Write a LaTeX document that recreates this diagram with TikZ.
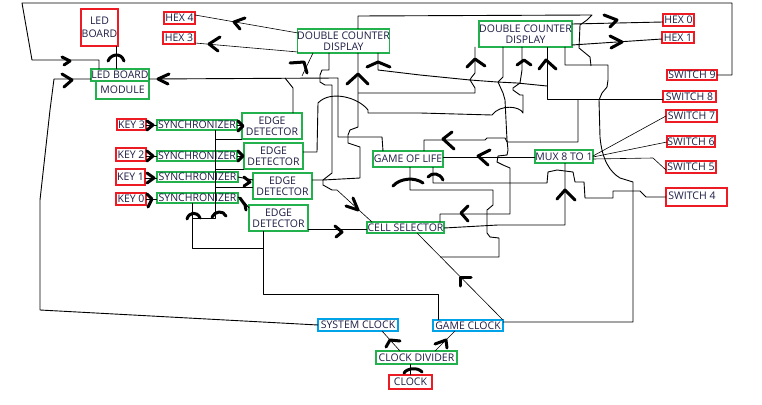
\documentclass[tikz,border=0pt]{standalone}
\usepackage{fontspec}
\setmainfont{Open Sans}
\definecolor{pred}{HTML}{ED1C24}
\definecolor{pgreen}{HTML}{22B14C}
\definecolor{pcyan}{HTML}{00A2E8}
\definecolor{txt}{HTML}{1E1E46}
\tikzset{
 wire/.style={line width=0.9pt, line join=round},
 fine/.style={line width=0.6pt},
 chev/.style={line width=3pt, line cap=round, line join=round},
 bx/.style={line width=1.3pt, inner sep=0pt, outer sep=0pt, font=\fontsize{10.5}{11.5}\selectfont, text=txt, align=center},
 rb/.style={bx, draw=pred},
 gb/.style={bx, draw=pgreen},
 cb/.style={bx, draw=pcyan}
}
\begin{document}
\begin{tikzpicture}[x=1pt,y=-1pt]
\useasboundingbox[fill=white] (0,0) rectangle (762,404);
% ---------- boxes ----------
\node[rb, minimum width=37, minimum height=37] (ledb) at (99.5,27.5) {LED\\[2pt]BOARD};
\node[rb, minimum width=31, minimum height=12] (hexf) at (179.5,18) {HEX 4};
\node[rb, minimum width=32, minimum height=12] (hext) at (179,38) {HEX 3};
\node[gb, minimum width=58, minimum height=12] (lbm) at (120,75) {LED BOARD};
\node[gb, minimum width=53, minimum height=18] (lbmb) at (122.5,90) {MODULE};
\node[gb, minimum width=91, minimum height=24] (dcdl) at (343.5,41) {DOUBLE COUNTER\\DISPLAY};
\node[gb, minimum width=93, minimum height=26] (dcdr) at (525.5,34) {DOUBLE COUNTER\\DISPLAY};
\node[rb, minimum width=31, minimum height=12] (hexz) at (678.5,20) {HEX 0};
\node[rb, minimum width=32, minimum height=11] (hexo) at (678,37.5) {HEX 1};
\node[rb, minimum width=50, minimum height=10] (swn) at (692,75) {SWITCH 9};
\node[rb, minimum width=53, minimum height=11] (swe) at (689.5,96.5) {SWITCH 8};
\node[rb, minimum width=51, minimum height=12] (sws) at (691.5,116) {SWITCH 7};
\node[rb, minimum width=48, minimum height=11] (swx) at (691,141.5) {SWITCH 6};
\node[rb, minimum width=50, minimum height=12] (swv) at (691,167) {SWITCH 5};
\node[rb, minimum width=61, minimum height=18] (swf) at (696.5,197) {};
\node[font=\fontsize{10.5}{11.5}\selectfont, text=txt, inner sep=0pt] (swft) at (692,196) {SWITCH 4};
\node[rb, minimum width=29, minimum height=11] (kc) at (131.5,124.5) {KEY 3};
\node[rb, minimum width=30, minimum height=13] (kb) at (131,154.5) {KEY 2};
\node[rb, minimum width=29, minimum height=16] (ka) at (130.5,177) {KEY 1};
\node[rb, minimum width=30, minimum height=12] (kz) at (131,199) {KEY 0};
\node[gb, minimum width=80, minimum height=10] (sc) at (197,125) {SYNCHRONIZER};
\node[gb, minimum width=80, minimum height=10] (sb) at (197,156) {SYNCHRONIZER};
\node[gb, minimum width=81, minimum height=10] (sa) at (197.5,177) {SYNCHRONIZER};
\node[gb, minimum width=81, minimum height=10] (sz) at (197.5,198) {SYNCHRONIZER};
\node[gb, minimum width=60, minimum height=26] (ec) at (272,126) {EDGE\\DETECTOR};
\node[gb, minimum width=59, minimum height=26] (eb) at (273.5,156) {EDGE\\DETECTOR};
\node[gb, minimum width=59, minimum height=26] (ea) at (282.5,186) {EDGE\\DETECTOR};
\node[gb, minimum width=59, minimum height=26] (ez) at (278.5,218) {EDGE\\DETECTOR};
\node[gb, minimum width=77, minimum height=11] (cell) at (405.5,227.5) {CELL SELECTOR};
\node[gb, minimum width=70, minimum height=16] (gol) at (408,159) {GAME OF LIFE};
\node[gb, minimum width=58, minimum height=13] (mux) at (564,156.5) {MUX 8 TO 1};
\node[cb, minimum width=80, minimum height=12] (sys) at (358,325) {SYSTEM CLOCK};
\node[cb, minimum width=70, minimum height=11] (gck) at (468,325.5) {GAME CLOCK};
\node[gb, minimum width=81, minimum height=13] (cdiv) at (416.5,357.5) {CLOCK DIVIDER};
\node[rb, minimum width=43, minimum height=14] (clk) at (410.5,382) {CLOCK};
% ---------- wires ----------
\draw[wire] (swn.east) -- (732,75) -- (732,3) -- (22,3) -- (32,60) -- (99,60) -- (99,69);
\draw[wire] (sys.west) -- (40,310) -- (40,200) -- (50,110) -- (54,79) -- (91,79);
\draw[wire] (116,69) -- (116,46);
\draw[wire] (383,151) -- (382,137) -- (338,137) -- (338,78) -- (149,79);
\draw[fine] (298,33) -- (195,15);
\draw[fine] (298,52) -- (195,43);
\draw[wire] (358,29) -- (358,16) -- (592,15) -- (587,20) -- (580,25) -- (579,48) -- (590,57) -- (591,66);
\draw[wire] (572,24) -- (663,22);
\draw[wire] (572,45) -- (662,39);
\draw[wire] (663,99) -- (547,99) -- (547,47);
\draw[wire] (578,99) -- (578,142) -- (507,142) -- (505,138) -- (487,138) -- (485,140) -- (424,140) -- (424,151);
\draw[fine] (593,156) -- (666,116);
\draw[fine] (593,157) -- (667,142);
\draw[fine] (593,159) -- (653,158) -- (666,170);
\draw[wire] (666,197) -- (646,197) -- (640,191) -- (613,191) -- (613,198) -- (585,198) -- (584,182) -- (575,182) -- (573,172) -- (557,170) -- (548,172) -- (547,183) -- (433,183) -- (433,167);
\draw[wire] (535,157) -- (443,157);
\draw[wire] (503,47) -- (503,77) -- (498,82) -- (503,93) -- (505,100) -- (507,140) -- (508,150) -- (507,155) -- (498,156) -- (497,162) -- (503,165) -- (510,168) -- (510,214) -- (440,214) -- (440,222);
\draw[wire] (475,47) -- (475,73) -- (471,78) -- (470,80) -- (420,75) -- (378,70) -- (378,53);
\draw[wire] (470,80) -- (497,82) -- (517,83) -- (547,86);
\draw[wire] (522,47) -- (522,70) -- (520,83) -- (513,88) -- (513,90) -- (520,95) -- (523,95) -- (523,113)
  .. controls (520,106) and (500,104) .. (492,115) -- (420,113) -- (368,113) -- (368,110)
  .. controls (358,97) and (330,90) .. (318,103) -- (317,152) -- (303,152);
\draw[wire] (358,53) -- (358,127) -- (350,130) -- (348,135) -- (348,143) -- (360,147) -- (360,178) -- (323,180);
\draw[wire] (358,93) -- (475,93) -- (475,88) -- (470,80);
\draw[wire] (329,53) -- (329,70) -- (322,70) -- (320,75) -- (320,82) -- (325,85) -- (332,85) -- (332,173) -- (323,180);
\draw[wire] (312,180) -- (323,180) -- (323,185) -- (332,190) -- (337,190);
\draw[fine] (337,190) -- (372,222);
\draw[wire] (308,229) -- (367,229);
\draw[wire] (293,113) -- (293,88) -- (285,78);
\draw[fine] (313,53) -- (302,76);
\draw[wire] (410,167) -- (410,190) -- (493,190) -- (493,205) -- (487,210) -- (487,233) -- (490,237) -- (499,238) -- (499,257) -- (440,257);
\draw[wire] (444,228) -- (498,225) -- (565,225) -- (565,163);
\draw[wire] (503,322) -- (633,322) -- (633,182) -- (620,178) .. controls (610,172) and (602,160) .. (600,137) -- (599,100) -- (602,93) -- (607,87) -- (608,80) -- (608,65) -- (565,65) -- (565,47);
\draw[fine] (503,320) -- (417,233);
\draw[wire] (263,231) -- (263,294) -- (438,294) -- (438,320);
\draw[wire] (192,203) -- (192,248) -- (263,248);
\draw[wire] (215,130) -- (215,218) -- (192,218);
\draw[wire] (215,139) -- (242,139);
\draw[wire] (215,169) -- (244,169);
\draw[wire] (215,187) -- (253,187);
\draw[wire] (146,125) -- (157,125);
\draw[wire] (146,156) -- (157,156);
\draw[wire] (145,178) -- (157,178);
\draw[wire] (146,199) -- (157,199);
\draw[wire] (237,125) -- (242,125);
\draw[wire] (237,156) -- (244,156);
\draw[wire] (238,177) -- (253,180);
\draw[wire] (238,197) -- (245,203) -- (249,208);
\draw[wire] (410,375) -- (410,364);
\draw[fine] (400,351) -- (382,331);
\draw[fine] (435,351) -- (455,331);
% ---------- hand-drawn arrow heads ----------
\draw[chev] (62,57) -- (70,61) -- (64,65);
\draw[chev] (62,74) -- (72,80) -- (64,87);
\draw[chev] (108,61) .. controls (111,54) and (121,52) .. (124,61);
\draw[chev] (169,74) -- (158,79) -- (168,84);
\draw[chev] (245,18) -- (234,22) -- (240,29);
\draw[chev] (220,37) -- (209,44) -- (218,51);
\draw[chev] (290,63) -- (304,62) -- (307,73);
\draw[chev] (347,84) -- (358,74) -- (368,84);
\draw[chev] (367,67) -- (378,62) -- (390,67);
\draw[chev] (467,67) -- (475,59) -- (485,66);
\draw[chev] (517,65) -- (524,60) -- (531,65);
\draw[chev] (539,69) -- (546,60) -- (556,69);
\draw[chev] (604,15) -- (617,20) -- (610,27);
\draw[chev] (610,36) -- (622,42) -- (611,48);
\draw[chev] (452,132) -- (443,139) -- (454,149);
\draw[chev] (490,150) -- (478,156) -- (488,165);
\draw[chev] (393,186) .. controls (400,178) and (415,177) .. (423,183);
\draw[chev] (428,177) .. controls (432,172) and (440,173) .. (443,180);
\draw[chev] (468,206) -- (461,213) -- (468,221);
\draw[chev] (557,199) -- (565,190) -- (575,200);
\draw[chev] (147,121) -- (153,125) -- (147,130);
\draw[chev] (147,151) -- (153,156) -- (147,161);
\draw[chev] (147,173) -- (154,178) -- (147,183);
\draw[chev] (147,194) -- (152,199) -- (148,207);
\draw[chev] (238,121) -- (243,126) -- (238,131);
\draw[chev] (238,151) -- (243,156) -- (238,161);
\draw[chev] (244,177) -- (250,182) -- (244,186);
\draw[chev] (240,198) -- (245,205) -- (246,210);
\draw[chev] (187,219) .. controls (189,212) and (197,211) .. (200,218);
\draw[chev] (212,217) .. controls (215,211) and (223,210) .. (226,216);
\draw[chev] (335,226) -- (342,232) -- (336,237);
\draw[chev] (346,206) -- (358,210) -- (353,198);
\draw[chev] (460,286) -- (460,277) -- (471,277);
\draw[chev] (404,373) .. controls (407,368) and (418,367) .. (422,372);
\draw[chev] (386,347) -- (390,340) -- (400,341);
\draw[chev] (435,344) -- (446,340) -- (447,348);
\end{tikzpicture}
\end{document}
